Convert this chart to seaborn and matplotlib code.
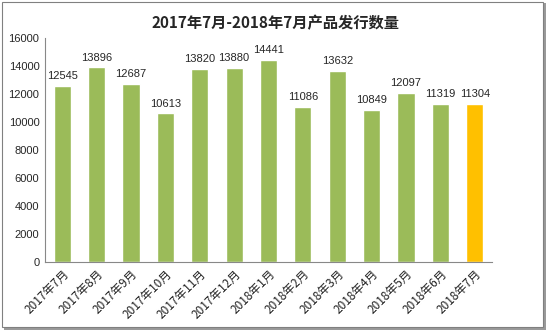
import matplotlib
matplotlib.use("Agg")
import matplotlib.pyplot as plt
import seaborn as sns
import pandas as pd
from matplotlib.patches import Rectangle

months = ["2017年7月", "2017年8月", "2017年9月", "2017年10月", "2017年11月", "2017年12月",
          "2018年1月", "2018年2月", "2018年3月", "2018年4月", "2018年5月", "2018年6月", "2018年7月"]
counts = [12545, 13896, 12687, 10613, 13820, 13880, 14441, 11086, 13632, 10849, 12097, 11319, 11304]
colors = ["#9BBB59"] * 12 + ["#FFC000"]
title = "2017年7月-2018年7月产品发行数量"
yticks = [0, 2000, 4000, 6000, 8000, 10000, 12000, 14000, 16000]

sns.set_theme(style="white")
plt.rcParams['font.family'] = ['Noto Sans CJK SC', 'DejaVu Sans']

df = pd.DataFrame({"month": months, "count": counts})
fig = plt.figure(figsize=(5.5, 3.34), dpi=100)
# frame with shadow
fig.patches.append(Rectangle((0.008, 0.012), 0.984, 0.978, transform=fig.transFigure,
                             facecolor="#9a9a9a", edgecolor="none", zorder=0))
fig.patches.append(Rectangle((0.003, 0.02), 0.984, 0.975, transform=fig.transFigure,
                             facecolor="white", edgecolor="#808080", linewidth=0.8, zorder=1))
ax = fig.add_axes([0.0818, 0.2156, 0.8127, 0.6706])
ax.set_zorder(2)
sns.barplot(data=df, x="month", y="count", hue="month", palette=colors, legend=False,
            width=0.5, ax=ax, saturation=1)
ax.set_ylim(0, 16000)
ax.set_xlim(-0.5, len(months) - 0.5)
ax.set_yticks(yticks)
ax.set_yticklabels([str(v) for v in yticks], fontsize=8, family=['Liberation Sans'])
ax.set_xticks(range(len(months)))
ax.set_xticklabels(months, rotation=45, ha="right", rotation_mode="anchor", fontsize=8.5, color="#222222")
ax.tick_params(axis='both', length=0, pad=4)
ax.set_xlabel("")
ax.set_ylabel("")
ax.patch.set_alpha(0)
for s in ["top", "right"]:
    ax.spines[s].set_visible(False)
for s in ["left", "bottom"]:
    ax.spines[s].set_color("#888888")
    ax.spines[s].set_linewidth(0.8)
for i, v in enumerate(counts):
    ax.text(i, v + 350, str(v), ha="center", va="bottom", fontsize=8, family=['Liberation Sans'])
fig.text(0.5, 0.93, title, ha="center", va="center", fontsize=11, fontweight="bold")
fig.savefig("out.png", dpi=100)
